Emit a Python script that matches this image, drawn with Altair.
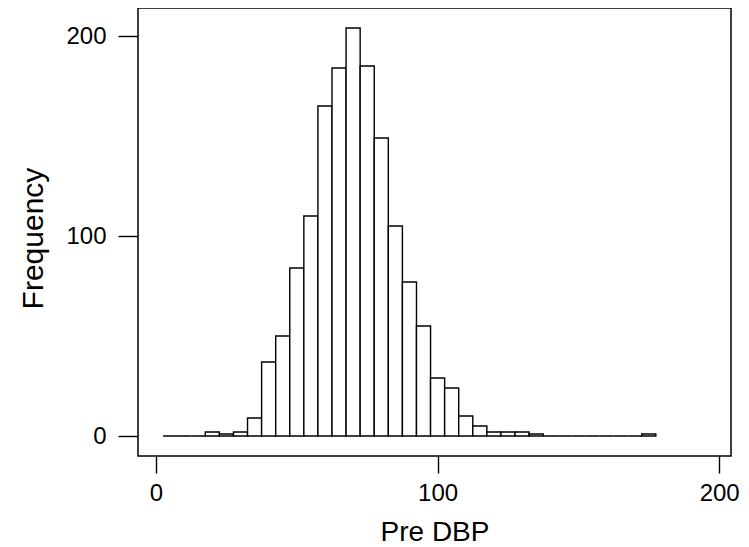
import altair as alt
import pandas as pd

# Histogram of Pre DBP, bin width 5, bins centred on multiples of 5
bin_centers = [5, 10, 15, 20, 25, 30, 35, 40, 45, 50, 55, 60, 65, 70, 75, 80, 85,
               90, 95, 100, 105, 110, 115, 120, 125, 130, 135, 140, 145, 150, 155,
               160, 165, 170, 175]
counts = [0, 0, 0, 2, 1, 2, 9, 37, 50, 84, 110, 165, 184, 204, 185, 149, 105,
          77, 55, 29, 24, 10, 5, 2, 2, 2, 1, 0, 0, 0, 0,
          0, 0, 0, 1]
bin_width = 5
x_ticks = [0, 100, 200]
y_ticks = [0, 100, 200]

df = pd.DataFrame({
    "start": [c - bin_width / 2 for c in bin_centers],
    "end": [c + bin_width / 2 for c in bin_centers],
    "count": counts,
})

FONT = "Liberation Sans"

chart = alt.Chart(df).mark_bar(
    fill="white", stroke="black", strokeWidth=1.4
).encode(
    x=alt.X("start:Q",
            scale=alt.Scale(domain=[-6.4, 204.2], nice=False, zero=False),
            axis=alt.Axis(values=x_ticks, title="Pre DBP", grid=False, domain=False,
                          tickSize=17, tickColor="black", tickWidth=1.4,
                          labelFont=FONT, labelFontSize=24, labelColor="black",
                          labelPadding=8, labelFlush=False,
                          titleFont=FONT, titleFontSize=28, titleFontWeight="normal",
                          titleColor="black", titleBaseline="alphabetic", titleY=84)),
    x2="end:Q",
    y=alt.Y("count:Q",
            scale=alt.Scale(domain=[-10, 214], nice=False, zero=False),
            axis=alt.Axis(values=y_ticks, title="Frequency", grid=False, domain=False,
                          tickSize=20, tickColor="black", tickWidth=1.4,
                          labelFont=FONT, labelFontSize=24, labelColor="black",
                          labelPadding=12, labelFlush=False,
                          titleFont=FONT, titleFontSize=30, titleFontWeight="normal",
                          titleColor="black", titleBaseline="alphabetic",
                          titleX=-96, titleY=230)),
    y2=alt.datum(0),
).properties(
    width=593, height=448,
    autosize=alt.AutoSizeParams(type="none"),
    padding={"left": 130, "top": 0, "right": 10, "bottom": 90},
    background="white",
).configure_view(
    stroke="black", strokeWidth=1.5
)

chart.save("out.html", embed_options={"renderer": "svg", "actions": False})
